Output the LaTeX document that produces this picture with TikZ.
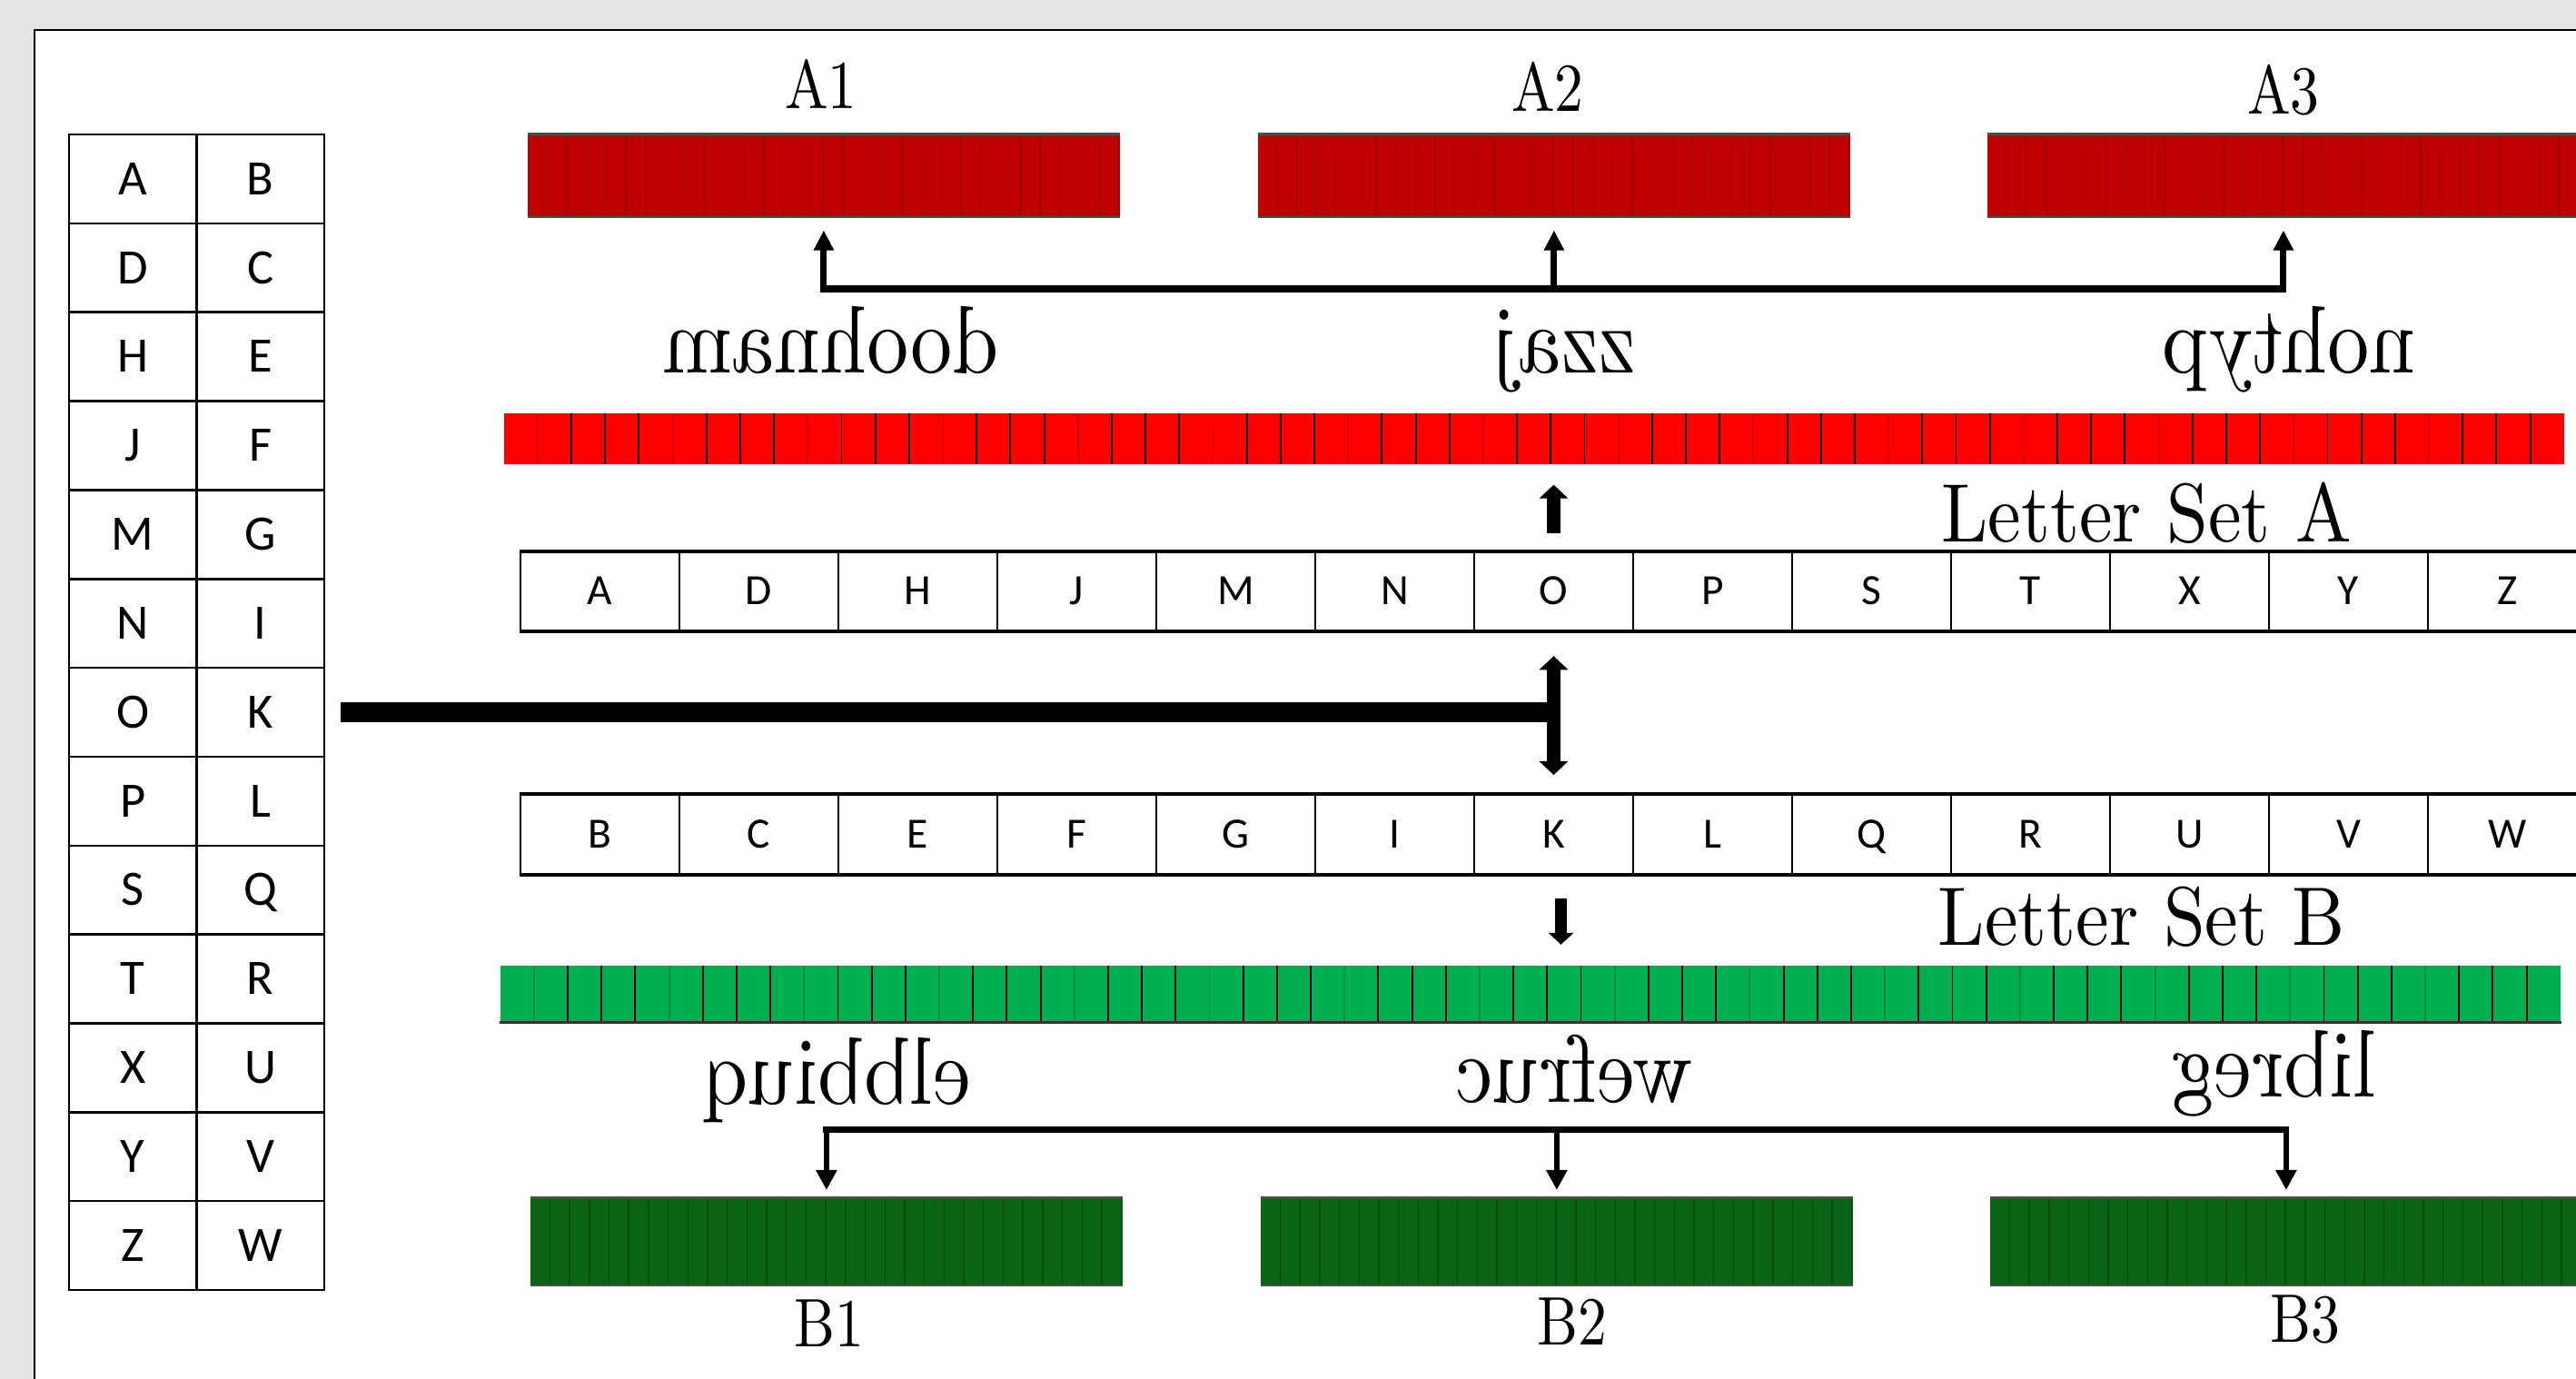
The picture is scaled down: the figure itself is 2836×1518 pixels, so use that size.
\documentclass[tikz,border=0pt]{standalone}
\usepackage{fontspec}
\usepackage{graphicx}
\usetikzlibrary{arrows.meta,calc}
\newfontfamily\carlito{Carlito}
\newfontfamily\lmten{lmroman10-regular}[Extension=.otf]
\definecolor{pagegray}{RGB}{229,229,229}
\definecolor{redA}{RGB}{255,0,0}
\definecolor{redD}{RGB}{192,0,0}
\definecolor{redDs}{RGB}{160,0,0}
\definecolor{greenB}{RGB}{0,176,80}
\definecolor{greenD}{RGB}{12,100,22}
\definecolor{greenDs}{RGB}{6,80,14}
\tikzset{
  cell/.style={draw, line width=0.7pt, minimum width=1.405cm, minimum height=0.9785cm, inner sep=0pt,
    text height=9.8pt, text depth=0pt, font=\carlito\fontsize{15.5pt}{18pt}\selectfont},
  rowcell/.style={draw, line width=0.45pt, minimum width=1.75cm, minimum height=0.865cm, inner sep=0pt,
    text height=8.5pt, text depth=0pt, font=\carlito\fontsize{13.5pt}{16pt}\selectfont},
  darkbar/.style 2 args={rectangle, inner sep=0pt, anchor=north west, fill=#1,
    minimum width=6.52cm, minimum height=0.93cm,
    path picture={
      \foreach \k in {1,...,30}{
        \draw[#2, line width=0.4pt] ([xshift=\k*6.17pt]path picture bounding box.south west)
          -- ([xshift=\k*6.17pt]path picture bounding box.north west);}
      \draw[black!70, line width=1.1pt]
        (path picture bounding box.north west) -- (path picture bounding box.north east)
        (path picture bounding box.south west) -- (path picture bounding box.south east);
    }},
  longbar/.style n args={3}{rectangle, inner sep=0pt, anchor=north west, fill=#1,
    minimum width=22.67cm, minimum height=#2,
    path picture={
      \foreach \k in {1,...,60}{
        \pgfmathtruncatemacro{\m}{mod(\k,4)}
        \ifnum\m=1 \def\stc{#3}\else\def\stc{black}\fi
        \draw[\stc, line width=0.55pt] ([xshift=\k*10.573pt]path picture bounding box.south west)
          -- ([xshift=\k*10.573pt]path picture bounding box.north west);}
    }},
  lab/.style={font=\lmten\fontsize{21.5pt}{26pt}\selectfont, inner sep=0pt, anchor=base},
  word/.style={font=\lmten\fontsize{30pt}{36pt}\selectfont, inner sep=0pt, anchor=base},
  setlab/.style={font=\lmten\fontsize{26pt}{31pt}\selectfont, inner sep=0pt, anchor=base},
  bus/.style={line width=2pt, line cap=rect},
  busarrow/.style={line width=2pt, -{Triangle[width=6pt,length=6.3pt]}, shorten >=3.7pt},
  thinarrow/.style={line width=1.6pt, -{Triangle[width=6.3pt,length=6.3pt]}, shorten >=2pt},
  midarrow/.style={line width=4.3pt, -{Triangle[width=8.8pt,length=4.3pt]}},
  dblarrow/.style={line width=4.3pt, {Triangle[width=8.8pt,length=4.3pt]}-{Triangle[width=8.8pt,length=4.3pt]}},
  downarrow/.style={line width=3.7pt, -{Triangle[width=7.7pt,length=3.7pt]}},
  thickbar/.style={line width=6pt}
}
\begin{document}
\begin{tikzpicture}[x=0.01cm, y=-0.01cm]
\useasboundingbox (0,0) rectangle (2836,1518);
\fill[pagegray] (0,0) rectangle (2836,1518);
\fill[white] (38,33) rectangle (2840,1520);
\draw[line width=0.6pt] (38,1520) -- (38,33) -- (2840,33);

% letter table and letter rows
\foreach \l/\r [count=\i from 0] in {A/B,D/C,H/E,J/F,M/G,N/I,O/K,P/L,S/Q,T/R,X/U,Y/V,Z/W}{
  \pgfmathsetmacro{\yy}{148+97.85*(\i+0.5)}
  \pgfmathsetmacro{\xx}{660.5+175*\i}
  \node[cell] (t-\l) at (146.25,\yy) {\l};
  \node[cell] (t-\r) at (286.75,\yy) {\r};
  \node[rowcell] (ra-\l) at (\xx,651) {\l};
  \node[rowcell, minimum height=0.87cm] (rb-\r) at (\xx,918.5) {\r};
}
\draw[line width=1pt] (ra-A.north west) -- (ra-Z.north east) (ra-A.south west) -- (ra-Z.south east);
\draw[line width=1pt] (rb-B.north west) -- (rb-W.north east) (rb-B.south west) -- (rb-W.south east);

% bars
\node[darkbar={redD}{redDs}] (A1) at (580,146) {};
\node[darkbar={redD}{redDs}] (A2) at (1384,146) {};
\node[darkbar={redD}{redDs}] (A3) at (2187,146) {};
\node[longbar={redA}{0.56cm}{redA!85!black}] (barA) at (554,454) {};
\node[longbar={greenB}{0.62cm}{greenB!80!black}] (barB) at (550,1062) {};
\draw[line width=0.8pt, black!80] (barB.south west) -- (barB.south east);
\node[darkbar={greenD}{greenDs}, minimum height=0.98cm] (B1) at (583,1317) {};
\node[darkbar={greenD}{greenDs}, minimum height=0.98cm] (B2) at (1387,1317) {};
\node[darkbar={greenD}{greenDs}, minimum height=0.98cm] (B3) at (2190,1317) {};

% labels
\node[lab] (lA1) at (904,120) {\scalebox{0.84}[1]{A1}};
\node[lab] (lA2) at (1704,122) {\scalebox{0.84}[1]{A2}};
\node[lab] (lA3) at (2514,125) {\scalebox{0.84}[1]{A3}};
\node[lab] (lB1) at (913,1482) {\scalebox{0.84}[1]{B1}};
\node[lab] (lB2) at (1731,1480) {\scalebox{0.84}[1]{B2}};
\node[lab] (lB3) at (2538,1477) {\scalebox{0.84}[1]{B3}};

% mirrored words
\node[word] (w1) at (915,410) {\scalebox{-0.87}[1]{doohnam}};
\node[word] (w2) at (1721,410) {\scalebox{-0.87}[1]{zzaj}};
\node[word] (w3) at (2520,410) {\scalebox{-0.87}[1]{nohtyp}};
\node[word] (w4) at (922,1215) {\scalebox{-0.87}[1]{elbbiuq}};
\node[word] (w5) at (1733,1213) {\scalebox{-0.87}[1]{wefruc}};
\node[word] (w6) at (2504,1207) {\scalebox{-0.87}[1]{libreg}};

\node[setlab] (setA) at (2363,596) {\scalebox{0.9}[1]{Letter Set A}};
\node[setlab] (setB) at (2358,1040) {\scalebox{0.9}[1]{Letter Set B}};

% top bus
\coordinate (busT) at (1707,318);
\draw[bus] (A1.south |- busT) -- (A3.south |- busT);
\foreach \n in {A1,A2,A3}{\draw[busarrow] (\n.south |- busT) -- (\n.south);}

% middle arrows
\draw[midarrow] ([yshift=5.7pt]ra-O.north) -- (ra-O.north |- barA.south) [shorten >=6.3pt];
\draw[dblarrow, shorten <=7.7pt, shorten >=6pt] (ra-O.south) -- (rb-K.north);
\draw[thickbar] ([xshift=4.84pt]t-K.east) -- (t-K.east -| ra-O.center);
\coordinate (dnTop) at ($(rb-K.south)+(8,26)$);
\draw[downarrow, shorten >=6.3pt] (dnTop) -- (dnTop |- barB.north);

% bottom bus
\coordinate (busB) at (1719,1243.5);
\draw[bus] (B1.north |- busB) -- (B3.north |- busB);
\foreach \n in {B1,B2,B3}{\draw[thinarrow] (\n.north |- busB) -- (\n.north);}
\end{tikzpicture}
\end{document}
